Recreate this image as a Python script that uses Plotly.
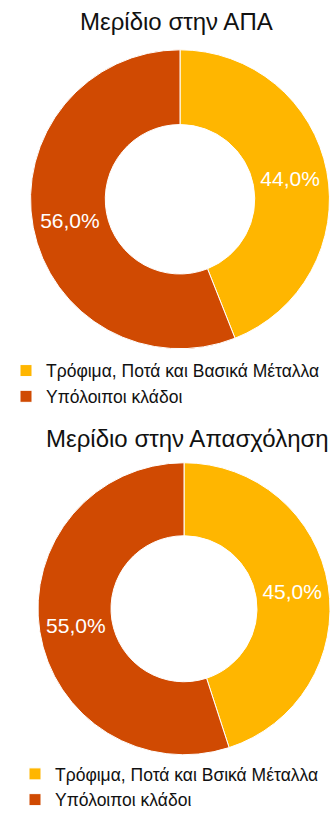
import plotly.graph_objects as go

# Data
titles = ["Μερίδιο στην ΑΠΑ", "Μερίδιο στην Απασχόληση"]
labels_gva = ["Τρόφιμα, Ποτά και Βασικά Μέταλλα", "Υπόλοιποι κλάδοι"]
values_gva = [44.0, 56.0]
# zero-width space keeps the second pie's label distinct so its own legend lists it
labels_emp = ["Τρόφιμα, Ποτά και Βσικά Μέταλλα", "Υπόλοιποι κλάδοι\u200b"]
values_emp = [45.0, 55.0]
colors = ["#FFB600", "#D04A02"]

W, H = 330, 818
FONT = "Liberation Sans, Arial, sans-serif"

def px_x(v):
    return v / W

def px_y(v):
    return 1 - v / H

fig = go.Figure()

fig.add_trace(go.Pie(
    labels=labels_gva, values=values_gva, hole=0.5, sort=False,
    direction="clockwise", rotation=0,
    marker=dict(colors=colors, line=dict(color="white", width=1)),
    texttemplate="%{percent:.1%}", textposition="inside",
    insidetextorientation="horizontal",
    insidetextfont=dict(color="white", size=21, family=FONT),
    domain=dict(x=[px_x(30), px_x(330)], y=[px_y(350), px_y(50)]),
    legend="legend", hoverinfo="label+percent",
))

fig.add_trace(go.Pie(
    labels=labels_emp, values=values_emp, hole=0.5, sort=False,
    direction="clockwise", rotation=0,
    marker=dict(colors=colors, line=dict(color="white", width=1)),
    texttemplate="%{percent:.1%}", textposition="inside",
    insidetextorientation="horizontal",
    insidetextfont=dict(color="white", size=21, family=FONT),
    domain=dict(x=[px_x(38), px_x(330)], y=[px_y(758), px_y(464)]),
    legend="legend2", hoverinfo="label+percent",
))

fig.add_annotation(text=titles[0], x=px_x(176), y=px_y(22), xref="paper", yref="paper",
                   showarrow=False, font=dict(size=24, color="#111111", family=FONT),
                   xanchor="center", yanchor="middle")
fig.add_annotation(text=titles[1], x=px_x(187), y=px_y(440), xref="paper", yref="paper",
                   showarrow=False, font=dict(size=24, color="#111111", family=FONT),
                   xanchor="center", yanchor="middle")

fig.update_layout(
    width=W, height=H,
    margin=dict(l=0, r=0, t=0, b=0),
    paper_bgcolor="white", plot_bgcolor="white",
    separators=",.",
    font=dict(family=FONT, color="#111111"),
    legend=dict(x=px_x(6), y=px_y(354), xanchor="left", yanchor="top",
                font=dict(size=17.5, family=FONT, color="#111111"),
                bgcolor="rgba(0,0,0,0)", tracegroupgap=0, itemwidth=30),
    legend2=dict(x=px_x(15), y=px_y(759), xanchor="left", yanchor="top",
                 font=dict(size=17.5, family=FONT, color="#111111"),
                 bgcolor="rgba(0,0,0,0)", tracegroupgap=0, itemwidth=30),
)

fig.write_html(
    "out.html",
    config={"displayModeBar": False},
    post_script="document.body.style.margin='0px';document.body.style.overflow='hidden';",
)
